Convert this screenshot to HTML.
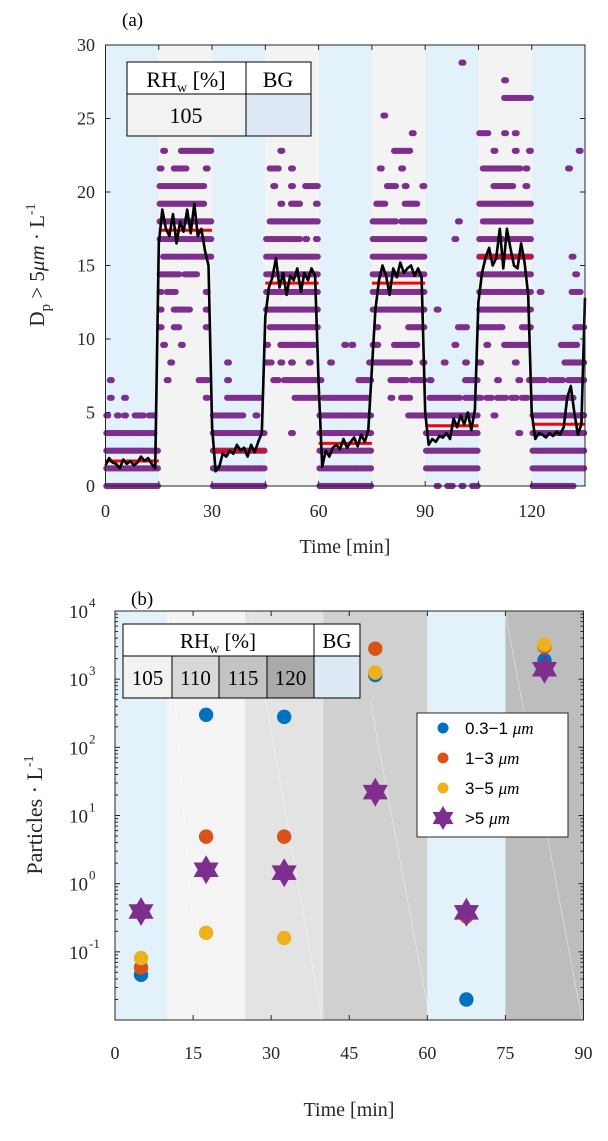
<!DOCTYPE html>
<html><head><meta charset="utf-8">
<style>
html,body{margin:0;padding:0;background:#fff;}
svg{display:block;font-family:"Liberation Serif",serif;}
</style></head>
<body>
<svg id="fig" width="608" height="1141" viewBox="0 0 608 1141" xmlns="http://www.w3.org/2000/svg">
<g id="pa"></g>
<g id="pb"></g>
</svg>
<script>
// ---------- Panel (a) data ----------
const aShadeStarts = [0,15,30,45,60,75,90,105,120];
const aShadeTypes  = ["bg","rh","bg","rh","bg","rh","bg","rh","bg"];
const aLevelStep = 1.2;
// [segment start minute, level index, per-minute occupancy pattern]
const aDotRows = [
[0,0,"111111111111111"],[0,1,"111111111111111"],[0,2,"111111111111111"],[0,3,"111111111111110"],[0,4,"100101001110110"],[0,5,"010001000000000"],[0,6,"010000000000000"],
[15,5,"000000000000010"],[15,6,"001000000001110"],[15,7,"000100000000000"],[15,8,"010000100000000"],[15,9,"100011000000010"],[15,10,"100011111000010"],[15,11,"101110000000010"],[15,12,"111111011110000"],[15,13,"011111111111111"],[15,14,"111111111111111"],[15,15,"111111111111111"],[15,16,"111111111111100"],[15,17,"111111111111100"],[15,18,"100011110000010"],[15,19,"010000111111111"],
[30,0,"111111111111111"],[30,1,"111111111111111"],[30,2,"111111111111111"],[30,3,"111111111111111"],[30,4,"111111111000100"],[30,5,"000011111111110"],[30,6,"000010000000000"],[30,7,"000010000000000"],
[45,3,"000000010000000"],[45,5,"000000001111111"],[45,6,"001101111111111"],[45,7,"110010010000100"],[45,8,"100011111111110"],[45,9,"011111111111111"],[45,10,"111111111111111"],[45,11,"111111111111111"],[45,12,"111111111111111"],[45,13,"111111111111111"],[45,14,"111111111101001"],[45,15,"011111111111111"],[45,16,"000010011100001"],[45,17,"001000010001111"],[45,18,"011100010000000"],[45,19,"000010000000000"],
[60,0,"111111111111111"],[60,1,"111111111111111"],[60,2,"111111111111111"],[60,3,"111111111111111"],[60,4,"111111111111111"],[60,5,"011111111111110"],[60,6,"100000000001111"],[60,7,"000100000000001"],[60,8,"000000010100000"],
[75,4,"000000000011111"],[75,5,"000001001110000"],[75,6,"000001111101111"],[75,7,"111111111110001"],[75,8,"110000111111100"],[75,9,"010000000011111"],[75,10,"111111111111111"],[75,11,"111111111111111"],[75,12,"111111111111111"],[75,13,"111111111111111"],[75,14,"111111111111111"],[75,15,"111111101111111"],[75,16,"011100000111100"],[75,17,"000011100100001"],[75,18,"001000001000000"],[75,19,"000000111110000"],[75,20,"000000000001000"],[75,21,"000100000000000"],
[90,0,"000100110010011"],[90,1,"111111111111111"],[90,2,"111111111111111"],[90,3,"111111111111111"],[90,4,"111111111111111"],[90,5,"011111111101111"],[90,6,"010000000001111"],[90,7,"000001000001000"],[90,8,"000000001000000"],[90,9,"000000000111000"],[90,10,"000100000000000"],[90,14,"000000001000000"],[90,15,"000000000100000"],[90,24,"000000000010000"],
[105,3,"000000000001000"],[105,4,"000010000000000"],[105,5,"101101110110110"],[105,6,"000001000001001"],[105,7,"100000000010000"],[105,8,"001000011111110"],[105,9,"111111100000111"],[105,10,"111111111111111"],[105,11,"111111111111111"],[105,12,"111111111111111"],[105,13,"111111111111111"],[105,14,"111111101111111"],[105,15,"011111111111111"],[105,16,"111111111111111"],[105,17,"000011111100010"],[105,18,"011111111111010"],[105,19,"000010000010001"],[105,20,"111000010010000"],[105,22,"000000011111111"],[105,23,"000000010000000"],
[120,0,"111111111111000"],[120,1,"111111111111111"],[120,2,"111111111111111"],[120,3,"111111111111111"],[120,4,"111111111111111"],[120,5,"111111111111000"],[120,6,"111101111011111"],[120,7,"000000000111111"],[120,8,"000000001111100"],[120,9,"000000000000111"],[120,11,"001000000001110"],[120,12,"000000000000100"],[120,13,"000000000001000"],[120,18,"000000000010000"],[120,19,"000000000000010"]
];
const aMeanLine = [1.4,1.9,1.6,1.5,1.2,1.8,1.5,1.7,1.4,1.6,2.0,1.7,1.9,1.5,1.2,
16.5,18.8,17.5,17.0,18.5,16.5,18.0,17.3,18.8,17.2,19.2,17.0,17.5,16.0,15.0,
4.0,1.0,1.3,2.2,2.0,2.4,2.2,2.8,2.4,2.6,2.0,2.8,2.3,3.0,3.6,
11.5,13.5,14.2,15.5,13.5,14.5,13.0,14.3,14.0,14.8,13.2,14.5,14.0,14.8,14.3,
7.0,1.3,2.4,2.0,2.6,2.8,2.5,3.2,2.6,3.0,3.3,2.7,3.5,3.0,3.8,
8.0,12.0,14.0,15.0,14.3,13.0,14.8,14.2,15.2,14.5,14.8,15.0,14.3,14.8,14.2,
5.0,2.8,3.2,3.0,3.4,3.3,3.6,3.2,4.6,4.0,4.8,4.2,5.0,3.8,5.2,
12.5,14.5,15.5,16.2,15.0,15.5,17.5,14.8,17.5,16.2,15.0,14.8,16.5,15.2,13.0,
5.0,3.2,3.6,3.5,3.3,3.6,3.4,3.7,3.5,4.0,6.0,6.8,5.0,3.5,4.2,12.8];
const aRedStarts = [0,15,30,45,60,75,90,105,120];
const aRedValues = [1.7,17.4,2.4,13.8,2.9,13.8,4.1,15.6,4.2];
const aXTicks = [0,30,60,90,120];
const aYTicks = [0,5,10,15,20,25,30];

// ---------- Panel (b) data ----------
const bBandStarts = [0,10,25,40,60,75];
const bBandEnds   = [10,25,40,60,75,90];
const bBandNames  = ["bg-1","rh-105","rh-110","rh-115","bg-2","rh-120"];
const bTimes = [5,17.5,32.5,50,67.5,82.5];
const bSmall  = [0.046,300,280,1150,0.02,1900];   // 0.3-1 um
const bMid    = [0.059,4.9,4.9,2800,0.33,3000];    // 1-3 um
const bLarge  = [0.081,0.19,0.16,1250,0.36,3200];  // 3-5 um
const bHuge   = [0.39,1.6,1.45,22,0.38,1400];      // >5 um
const bXTicks = [0,15,30,45,60,75,90];
const bYExp = [-1,0,1,2,3,4];

const NS="http://www.w3.org/2000/svg";
function mk(parent,tag,attrs){const e=document.createElementNS(NS,tag);for(const k in attrs)e.setAttribute(k,attrs[k]);parent.appendChild(e);return e;}

// ===== Panel A =====
const pa=document.getElementById('pa');
const AX0=105.5, AX1=585, AY0=45, AY1=486;
const ax=t=>AX0+(t-0)/135*(AX1-AX0);
const ay=v=>AY1-(v/30)*(AY1-AY0);
aShadeStarts.forEach((s,i)=>{
  const r=mk(pa,'rect',{x:ax(s),y:AY0,width:ax(s+15)-ax(s),height:AY1-AY0,fill:aShadeTypes[i]==='bg'?'#e3f1fb':'#f3f3f3'});
  
  
});
const dotsG=mk(pa,'g',{fill:'#7e2f8e'});


aDotRows.forEach(row=>{
  const [s,lvl,pat]=row;
  for(let j=0;j<pat.length;j++){
    if(pat[j]==='1'){
      [0.25,0.75].forEach(o=>{
        const t=s+j+o; if(t>135)return;
        const c=mk(dotsG,'circle',{cx:ax(t),cy:ay(lvl*aLevelStep),r:3.1});
        
        
      });
    }
  }
});
const redG=mk(pa,'g',{stroke:'#ff0000','stroke-width':3});


aRedStarts.forEach((s,i)=>{
  const l=mk(redG,'line',{x1:ax(s),x2:ax(s+15),y1:ay(aRedValues[i]),y2:ay(aRedValues[i])});
  
  
});
const pts=aMeanLine.map((v,i)=>ax(i).toFixed(1)+','+ay(v).toFixed(1)).join(' ');
const ml=mk(pa,'polyline',{points:pts,fill:'none',stroke:'#000','stroke-width':2.6,'stroke-linejoin':'round'});


const fa=mk(pa,'rect',{x:AX0,y:AY0,width:AX1-AX0,height:AY1-AY0,fill:'none',stroke:'#262626','stroke-width':1});


for(let t=0;t<=135;t+=15){
  mk(pa,'line',{x1:ax(t),x2:ax(t),y1:AY1,y2:AY1-5,stroke:'#262626'});
  mk(pa,'line',{x1:ax(t),x2:ax(t),y1:AY0,y2:AY0+5,stroke:'#262626'});
}
aXTicks.forEach(t=>{
  const tx=mk(pa,'text',{x:ax(t),y:517,'font-size':18,'text-anchor':'middle',fill:'#262626'});
  tx.textContent=t;
  
  
});
aYTicks.forEach(v=>{
  mk(pa,'line',{x1:AX0,x2:AX0+5,y1:ay(v),y2:ay(v),stroke:'#262626'});
  mk(pa,'line',{x1:AX1,x2:AX1-5,y1:ay(v),y2:ay(v),stroke:'#262626'});
  const tx=mk(pa,'text',{x:95,y:ay(v)+6,'font-size':18,'text-anchor':'end',fill:'#262626'});
  tx.textContent=v;
  
  
});
</script>
<script>
(function(){
const pa=document.getElementById('pa');
pa.insertAdjacentHTML('beforeend',`
<text x="122" y="26" font-size="19" fill="#000">(a)</text>
<text x="345" y="553" font-size="20" text-anchor="middle" fill="#262626">Time [min]</text>
<text transform="translate(44,265) rotate(-90)" font-size="21" text-anchor="middle" fill="#262626">D<tspan font-size="15" dy="6">p</tspan><tspan dy="-6"> &gt; 5</tspan><tspan font-style="italic">μm</tspan> · L<tspan font-size="14" dy="-9">-1</tspan></text>
<g>
<rect x="127" y="62" width="184" height="32" fill="#fff" stroke="#000"/>
<rect x="127" y="94" width="119" height="42" fill="#f2f2f2" stroke="#000"/>
<rect x="246" y="94" width="65" height="42" fill="#dde9f5" stroke="#000"/>
<line x1="246" y1="62" x2="246" y2="94" stroke="#000"/>
<text x="186" y="87" font-size="22" text-anchor="middle">RH<tspan font-size="14" dy="5">w</tspan><tspan dy="-5"> [%]</tspan></text>
<text x="278" y="87" font-size="22" text-anchor="middle">BG</text>
<text x="186" y="123" font-size="22" text-anchor="middle">105</text>
</g>`);
})();
</script>
<script>
(function(){
const pb=document.getElementById('pb');
const BX0=115, BX1=583.5, BY0=611, BY1=1020;
const bx=t=>BX0+t/90*(BX1-BX0);
const by=v=>BY1-(Math.log10(v)+2)/6*(BY1-BY0);
const bandFill={"bg-1":"#e3f1fb","rh-105":"#f4f4f4","rh-110":"#e3e3e3","rh-115":"#d0d0d0","bg-2":"#e3f1fb","rh-120":"#bdbdbd"};
bBandStarts.forEach((s,i)=>{
  const r=mk(pb,'rect',{x:bx(s),y:BY0,width:bx(bBandEnds[i])-bx(s),height:BY1-BY0,fill:bandFill[bBandNames[i]]});
  
  
});
[[168,611,200,1020],[250,611,322,1020],[370,700,430,1020],[505,611,582,1020]].forEach(d=>{
  mk(pb,'line',{x1:d[0],y1:d[1],x2:d[2],y2:d[3],stroke:'#ffffff','stroke-width':0.6,opacity:0.6});
});
const fr=mk(pb,'rect',{x:BX0,y:BY0,width:BX1-BX0,height:BY1-BY0,fill:'none',stroke:'#262626'});


bXTicks.forEach(t=>{
  mk(pb,'line',{x1:bx(t),x2:bx(t),y1:BY1,y2:BY1-5,stroke:'#262626'});
  mk(pb,'line',{x1:bx(t),x2:bx(t),y1:BY0,y2:BY0+5,stroke:'#262626'});
  const tx=mk(pb,'text',{x:bx(t),y:1059,'font-size':18,'text-anchor':'middle',fill:'#262626'});
  tx.textContent=t;
  
  
});
for(let e=-2;e<4;e++){
  for(let m=1;m<10;m++){
    const v=m*Math.pow(10,e); const y=by(v); const L=m===1?5:3;
    mk(pb,'line',{x1:BX0,x2:BX0+L,y1:y,y2:y,stroke:'#262626'});
    mk(pb,'line',{x1:BX1,x2:BX1-L,y1:y,y2:y,stroke:'#262626'});
  }
}
mk(pb,'line',{x1:BX0,x2:BX0+5,y1:BY0,y2:BY0,stroke:'#262626'});
bYExp.forEach(e=>{
  const y=by(Math.pow(10,e));
  const tx=mk(pb,'text',{x:88,y:y+7,'font-size':19,'text-anchor':'end',fill:'#262626'});
  tx.textContent='10';
  
  
  const sp=mk(pb,'text',{x:89,y:y-4,'font-size':13,'text-anchor':'start',fill:'#262626'});
  sp.textContent=String(e);
  
  
});
function star(g,cx,cy,R){
  const pts=[];
  for(let k=0;k<12;k++){const a=-Math.PI/2+k*Math.PI/6;const r=k%2?R*0.58:R;pts.push((cx+r*Math.cos(a)).toFixed(1)+','+(cy+r*Math.sin(a)).toFixed(1));}
  return mk(g,'polygon',{points:pts.join(' '),fill:'#7e2f8e'});
}
const series=[[bSmall,'#0072bd','small'],[bMid,'#d95319','mid'],[bLarge,'#edb120','large']];
series.forEach(([vals,col,nm])=>{
  const g=mk(pb,'g',{fill:col});
  
  
  bTimes.forEach((t,i)=>{
    const c=mk(g,'circle',{cx:bx(t),cy:by(vals[i]),r:7.2});
    
    
  });
});
const gs=mk(pb,'g',{});


bTimes.forEach((t,i)=>{
  const s=star(gs,bx(t),by(bHuge[i]),14.5);
  
  
});
pb.insertAdjacentHTML('beforeend',`
<text x="131" y="605" font-size="19" fill="#000">(b)</text>
<text x="349" y="1116" font-size="20" text-anchor="middle" fill="#262626">Time [min]</text>
<text transform="translate(42,815) rotate(-90)" font-size="22" text-anchor="middle" fill="#262626">Particles · L<tspan font-size="14" dy="-9">-1</tspan></text>
<g>
<rect x="123" y="624" width="191" height="32" fill="#fff" stroke="#000"/>
<rect x="314" y="624" width="46" height="32" fill="#fff" stroke="#000"/>
<rect x="123" y="656" width="49" height="42" fill="#f2f2f2" stroke="#000"/>
<rect x="172" y="656" width="47" height="42" fill="#d9d9d9" stroke="#000"/>
<rect x="219" y="656" width="48" height="42" fill="#c3c3c3" stroke="#000"/>
<rect x="267" y="656" width="47" height="42" fill="#aaaaaa" stroke="#000"/>
<rect x="314" y="656" width="46" height="42" fill="#dde9f5" stroke="#000"/>
<text x="218" y="648" font-size="21" text-anchor="middle">RH<tspan font-size="14" dy="5">w</tspan><tspan dy="-5"> [%]</tspan></text>
<text x="337" y="648" font-size="21" text-anchor="middle">BG</text>
<text x="147.5" y="685" font-size="21" text-anchor="middle">105</text>
<text x="195.5" y="685" font-size="21" text-anchor="middle">110</text>
<text x="243" y="685" font-size="21" text-anchor="middle">115</text>
<text x="290.5" y="685" font-size="21" text-anchor="middle">120</text>
</g>
<g font-family="Liberation Sans, sans-serif" font-size="17" fill="#000">
<rect x="417" y="713" width="151" height="124" fill="#fff" stroke="#262626"/>
<circle cx="443" cy="728" r="5.5" fill="#0072bd"/>
<text x="465" y="734">0.3−1 <tspan font-family="Liberation Serif, serif" font-style="italic">μm</tspan></text>
<circle cx="443" cy="758" r="5.5" fill="#d95319"/>
<text x="465" y="764">1−3 <tspan font-family="Liberation Serif, serif" font-style="italic">μm</tspan></text>
<circle cx="443" cy="788" r="5.5" fill="#edb120"/>
<text x="465" y="794">3−5 <tspan font-family="Liberation Serif, serif" font-style="italic">μm</tspan></text>
<polygon points="443,806 446.5,811.9 453.4,812 450,818 453.4,824 446.5,824.1 443,830 439.5,824.1 432.6,824 436,818 432.6,812 439.5,811.9" fill="#7e2f8e"/>
<text x="465" y="824">&gt;5 <tspan font-family="Liberation Serif, serif" font-style="italic">μm</tspan></text>
</g>`);
})();
</script>
</body></html>
